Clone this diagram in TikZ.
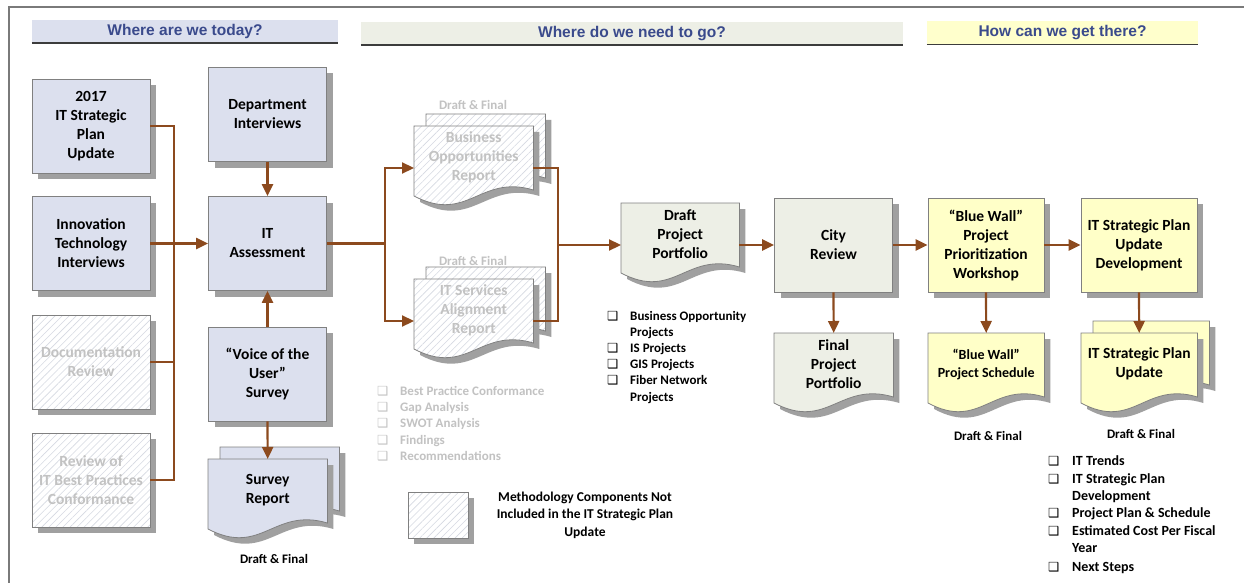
\documentclass[tikz,border=0pt]{standalone}
\usepackage{fontspec}
\setmainfont{Carlito}
\newfontfamily\hdfont{Liberation Sans}
\newfontfamily\symfont{DejaVu Sans}
\usetikzlibrary{arrows.meta,calc,shadows,patterns.meta,backgrounds}
\definecolor{lav}{HTML}{DCE0EE}
\definecolor{grn}{HTML}{EDEFE6}
\definecolor{yel}{HTML}{FFFFC8}
\definecolor{hyel}{HTML}{FFFFCC}
\definecolor{bord}{HTML}{808080}
\definecolor{shad}{HTML}{A0A0A0}
\definecolor{brn}{HTML}{8C4A1E}
\definecolor{hdtxt}{HTML}{3A4A8C}
\definecolor{hatchc}{HTML}{D6D9E2}
\definecolor{gtxt}{HTML}{C2C2C2}
\definecolor{framec}{HTML}{7A7A7A}
\definecolor{hdline}{HTML}{3C3C3C}
\newcommand\bxfont{\fontsize{15.5}{19}\selectfont\bfseries}
\newcommand\mdfont{\fontsize{14}{18}\selectfont\bfseries}
\newcommand\lsfont{\fontsize{13}{16}\selectfont\bfseries}
\newcommand\rsfont{\fontsize{14}{17}\selectfont\bfseries}
\newcommand\hfont{\hdfont\fontsize{15.5}{18}\selectfont\bfseries}
\newcommand\docp[3]{($(#1.north west)+(#2,#3)$) -- ($(#1.north east)+(#2,#3)$) -- ($(#1.north east)+(0,64)+(#2,#3)$) .. controls ($(#1.north west)!0.55!(#1.north east)+(0,48)+(#2,#3)$) and ($(#1.north west)!0.45!(#1.north east)+(0,98)+(#2,#3)$) .. ($(#1.north west)+(0,70)+(#2,#3)$) -- cycle}
\tikzset{
  shadowed/.style={drop shadow={shadow xshift=6pt, shadow yshift=-6pt, fill=shad, opacity=1}},
  box/.style={shadowed, draw=bord, line width=0.8pt, minimum width=118pt, minimum height=94pt, inner sep=2pt, align=center, font=\bxfont},
  lavbox/.style={box, fill=lav},
  grnbox/.style={box, fill=grn},
  yelbox/.style={box, fill=yel, minimum width=116pt},
  hatchbox/.style={shadowed, preaction={fill=white}, draw=bord, line width=0.8pt, minimum width=118pt, minimum height=94pt, inner sep=2pt, align=center, font=\bxfont, text=gtxt, pattern={Lines[angle=45,distance=5pt,line width=0.6pt]}, pattern color=hatchc},
  doc/.style={minimum height=62pt, inner sep=2pt, align=center, font=\bxfont, anchor=north west},
  lavdoc/.style={draw=bord, line width=0.8pt, fill=lav},
  grndoc/.style={draw=bord, line width=0.8pt, fill=grn},
  yeldoc/.style={draw=bord, line width=0.8pt, fill=yel},
  hatchdoc/.style={preaction={fill=white}, draw=bord, line width=0.8pt, pattern={Lines[angle=45,distance=5pt,line width=0.6pt]}, pattern color=hatchc},
  conn/.style={draw=brn, line width=2.2pt},
  arr/.style={conn, -{Triangle[length=12pt,width=11pt]}},
  hdr/.style={font=\hfont, text=hdtxt, inner sep=0pt, minimum height=23pt},
  dft/.style={font=\fontsize{13}{15}\selectfont\bfseries, inner sep=0pt},
  bul/.style={font=\symfont\bfseries\fontsize{12.5}{13}\selectfont, inner sep=0pt, anchor=base west},
  ltx/.style={font=\lsfont, inner sep=0pt, anchor=base west},
  rtx/.style={font=\rsfont, inner sep=0pt, anchor=base west},
}
\begin{document}
\begin{tikzpicture}[x=1pt,y=-1pt]
\useasboundingbox (0,0) rectangle (1244,583);
\begin{pgfonlayer}{background}
\fill[white] (0,0) rectangle (1244,583);
\end{pgfonlayer}
\draw[framec, line width=2pt] (8.5,583) -- (8.5,7.5) -- (1244,7.5);

% headers
\node[hdr, fill=lav, minimum width=306pt] (h1) at (185,31.5) {Where are we today?};
\node[hdr, fill=grn, minimum width=542pt] (h2) at (632,33.5) {Where do we need to go?};
\node[hdr, fill=hyel, minimum width=271pt] (h3) at (1062.5,33) {How can we get there?};
\draw[hdline, line width=1.5pt] (h1.south west) -- (h1.south east);
\draw[hdline, line width=1.5pt] (h2.south west) -- (h2.south east);
\draw[hdline, line width=1.5pt] (h3.south west) -- (h3.south east);

% left boxes
\node[lavbox] (b2017) at (91,126) {2017\\IT Strategic\\Plan\\Update};
\node[lavbox] (dept) at (267.5,114.5) {Department\\Interviews};
\node[lavbox] (innov) at (91,243.5) {Innovation\\Technology\\Interviews};
\node[lavbox] (itass) at (267.5,243.5) {IT\\Assessment};
\node[hatchbox] (docrev) at (91,362) {Documentation\\Review};
\node[hatchbox] (bestp) at (91,480) {Review of\\IT Best Practices\\Conformance};
\node[lavbox] (voice) at (267.5,374) {“Voice of the\\User”\\Survey};

% document nodes
\node[doc, minimum width=119pt] (survey) at (208,459) {Survey\\Report};
\node[doc, minimum width=119pt, text=gtxt] (bizopp) at (414,126) {Business\\Opportunities\\Report};
\node[doc, minimum width=119pt, text=gtxt] (itsvc) at (414,279) {IT Services\\Alignment\\Report};
\node[doc, minimum width=118pt] (draftpp) at (621,203) {Draft\\Project\\Portfolio};
\node[grnbox] (city) at (833.5,245) {City\\Review};
\node[doc, minimum width=119pt] (finalpp) at (774,333) {Final\\Project\\Portfolio};
\node[yelbox] (bwws) at (986,245) {“Blue Wall”\\Project\\Prioritization\\Workshop};
\node[yelbox] (itspd) at (1139,245) {IT Strategic Plan\\Update\\Development};
\node[doc, minimum width=116pt, font=\mdfont] (bwsched) at (928,333) {“Blue Wall”\\Project Schedule};
\node[doc, minimum width=116pt] (itspu) at (1081,333) {IT Strategic Plan\\Update};

\begin{pgfonlayer}{background}
  \fill[shad] \docp{survey}{18}{-6};
  \path[lavdoc] \docp{survey}{12}{-12};
  \fill[shad] \docp{survey}{6}{6};
  \path[lavdoc] \docp{survey}{0}{0};
  \fill[shad] \docp{bizopp}{18}{-6};
  \path[hatchdoc] \docp{bizopp}{12}{-12};
  \fill[shad] \docp{bizopp}{6}{6};
  \path[hatchdoc] \docp{bizopp}{0}{0};
  \fill[shad] \docp{itsvc}{18}{-6};
  \path[hatchdoc] \docp{itsvc}{12}{-12};
  \fill[shad] \docp{itsvc}{6}{6};
  \path[hatchdoc] \docp{itsvc}{0}{0};
  \fill[shad] \docp{draftpp}{6}{6};
  \path[grndoc] \docp{draftpp}{0}{0};
  \fill[shad] \docp{finalpp}{6}{6};
  \path[grndoc] \docp{finalpp}{0}{0};
  \fill[shad] \docp{bwsched}{6}{6};
  \path[yeldoc] \docp{bwsched}{0}{0};
  \fill[shad] \docp{itspu}{18}{-6};
  \path[yeldoc] \docp{itspu}{12}{-12};
  \fill[shad] \docp{itspu}{6}{6};
  \path[yeldoc] \docp{itspu}{0}{0};
\end{pgfonlayer}

% Draft & Final labels
\node[dft] (df1) at (274,559) {Draft \& Final};
\node[dft, text=gtxt] (df2) at (473,105) {Draft \& Final};
\node[dft, text=gtxt] (df3) at (473,261) {Draft \& Final};
\node[dft] (df4) at (988,436) {Draft \& Final};
\node[dft] (df5) at (1141,434) {Draft \& Final};

% connectors
\coordinate (busb) at (174,480);
\draw[conn] (b2017.east) -| (busb) -- (bestp.east);
\draw[conn] (docrev.east) -- (docrev.east -| busb);
\draw[arr] (innov.east) -- (itass.west);
\draw[arr] (dept.south) -- (itass.north);
\draw[arr] (voice.north) -- (itass.south);
\draw[arr] (voice.south) -- (survey.north);
\coordinate (split) at (385,243.5);
\draw[conn] (itass.east) -- (split);
\draw[arr] (split) |- ($(bizopp.north west)+(0,42)$);
\draw[arr] (split) |- ($(itsvc.north west)+(0,42)$);
\coordinate (join) at (558,245);
\draw[conn] ($(bizopp.north east)+(0,42)$) -| (join) |- ($(itsvc.north east)+(0,42)$);
\draw[arr] (join) -- ($(draftpp.north west)+(0,42)$);
\draw[arr] ($(draftpp.north east)+(0,42)$) -- (city.west);
\draw[arr] (city.east) -- (bwws.west);
\draw[arr] (bwws.east) -- (itspd.west);
\draw[arr] (city.south) -- (finalpp.north);
\draw[arr] (bwws.south) -- (bwsched.north);
\draw[arr] (itspd.south) -- (itspu.north);

% gray list
\node[bul, text=gtxt] (g1b) at (377,395.5) {❑};
\node[ltx, text=gtxt] (g1) at (400,395.5) {Best Practice Conformance};
\node[bul, text=gtxt] (g2b) at (377,411.5) {❑};
\node[ltx, text=gtxt] (g2) at (400,411.5) {Gap Analysis};
\node[bul, text=gtxt] (g3b) at (377,427.5) {❑};
\node[ltx, text=gtxt] (g3) at (400,427.5) {SWOT Analysis};
\node[bul, text=gtxt] (g4b) at (377,444.5) {❑};
\node[ltx, text=gtxt] (g4) at (400,444.5) {Findings};
\node[bul, text=gtxt] (g5b) at (377,460.5) {❑};
\node[ltx, text=gtxt] (g5) at (400,460.5) {Recommendations};

% project list
\node[bul] (p1b) at (607,320.5) {❑};
\node[ltx] (p1) at (630,320.5) {Business Opportunity};
\node[ltx] (p1c) at (630,336) {Projects};
\node[bul] (p2b) at (607,352) {❑};
\node[ltx] (p2) at (630,352) {IS Projects};
\node[bul] (p3b) at (607,368.5) {❑};
\node[ltx] (p3) at (630,368.5) {GIS Projects};
\node[bul] (p4b) at (607,384.5) {❑};
\node[ltx] (p4) at (630,384.5) {Fiber Network};
\node[ltx] (p4c) at (630,401) {Projects};

% right list
\node[bul] (r1b) at (1048,465) {❑};
\node[rtx] (r1) at (1072,465) {IT Trends};
\node[bul] (r2b) at (1048,483) {❑};
\node[rtx] (r2) at (1072,483) {IT Strategic Plan};
\node[rtx] (r2c) at (1072,500) {Development};
\node[bul] (r3b) at (1048,517) {❑};
\node[rtx] (r3) at (1072,517) {Project Plan \& Schedule};
\node[bul] (r4b) at (1048,535) {❑};
\node[rtx] (r4) at (1072,535) {Estimated Cost Per Fiscal};
\node[rtx] (r4c) at (1072,552) {Year};
\node[bul] (r5b) at (1048,571) {❑};
\node[rtx] (r5) at (1072,571) {Next Steps};

% legend
\node[hatchbox, minimum width=60pt, minimum height=46pt] (leg) at (438,515) {};
\node[font=\fontsize{13.5}{17.5}\selectfont\bfseries, align=center, inner sep=0pt] (legtxt) at (585,515) {Methodology Components Not\\Included in the IT Strategic Plan\\Update};
\end{tikzpicture}
\end{document}
